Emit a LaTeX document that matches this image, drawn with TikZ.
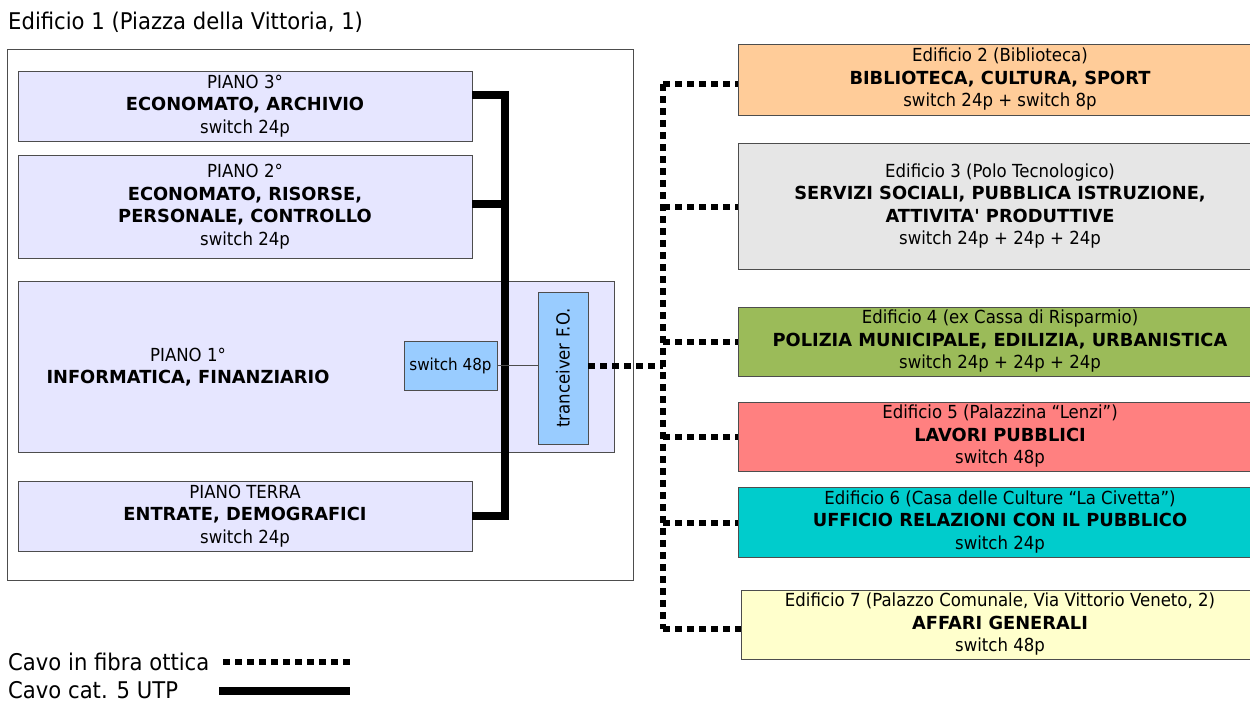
\documentclass[tikz,border=0pt]{standalone}
\usepackage{fontspec}
\setmainfont{DejaVu Sans}[FakeStretch=0.92, BoldFeatures={FakeStretch=0.99}]
\newcommand\fs{\fontsize{18}{22.5}\selectfont}
\newcommand\fssmall{\fontsize{16.5}{20}\selectfont}
\newcommand\fsbig{\fontsize{23}{27}\selectfont}
\newcommand\straightq{{\XeTeXglyph\XeTeXcharglyph"27\relax}}
\definecolor{lav}{HTML}{E6E6FF}
\definecolor{devblue}{HTML}{99CCFF}
\definecolor{edtwo}{HTML}{FFCC99}
\definecolor{edthree}{HTML}{E6E6E6}
\definecolor{edfour}{HTML}{9BBB59}
\definecolor{edfive}{HTML}{FF8080}
\definecolor{edsix}{HTML}{00CCCC}
\definecolor{edseven}{HTML}{FFFFCC}
\definecolor{edge}{HTML}{4D4D4D}
\begin{document}
\begin{tikzpicture}[x=1pt,y=-1pt,
  box/.style={draw=edge, line width=0.9pt, inner sep=0pt, align=center, font=\fs},
  floor/.style={box, fill=lav},
  dev/.style={box, fill=devblue, font=\fssmall},
  bld/.style={box, minimum width=524pt},
  utp/.style={line width=7.5pt, line join=miter},
  fiber/.style={line width=6.5pt, dash pattern=on 6.5pt off 5.5pt},
  lbl/.style={anchor=west, inner sep=0pt, font=\fsbig}]
\useasboundingbox (0,0) rectangle (1250,702);
\clip (0,0) rectangle (1250,702);
\fill[white] (0,0) rectangle (1250,702);

% title
\node[lbl] (title) at (8,22) {Edificio 1 (Piazza della Vittoria, 1)};

% building 1
\node[box, minimum width=626pt, minimum height=531pt] (outer) at (320,314.5) {};
\node[floor, minimum width=454pt, minimum height=70pt] (p3) at (245,106)
  {PIANO 3°\\\textbf{ECONOMATO, ARCHIVIO}\\switch 24p};
\node[floor, minimum width=454pt, minimum height=103pt] (p2) at (245,206.5)
  {PIANO 2°\\\textbf{ECONOMATO, RISORSE,}\\\textbf{PERSONALE, CONTROLLO}\\switch 24p};
\node[floor, minimum width=596pt, minimum height=171pt] (p1) at (316,366.5) {};
\node[align=center, inner sep=0pt, font=\fs] (p1t) at (188,367)
  {PIANO 1°\\\textbf{INFORMATICA, FINANZIARIO}};
\node[floor, minimum width=454pt, minimum height=70pt] (pt) at (245,516)
  {PIANO TERRA\\\textbf{ENTRATE, DEMOGRAFICI}\\switch 24p};

% UTP backbone
\coordinate (u3) at (505,95);
\coordinate (u2) at (505,204);
\coordinate (u0) at (505,516);
\draw[utp] (p3.east |- u3) -- (u3) -- (u0) -- (pt.east |- u0);
\draw[utp] (p2.east |- u2) -- (u2);

% devices
\node[dev, minimum width=93pt, minimum height=49pt] (sw) at (450.5,365.5) {switch 48p};
\node[dev, font=\fs, rotate=90, minimum width=152pt, minimum height=50pt] (tr) at (563,368) {tranceiver F.O.};
\draw[edge, line width=0.8pt] (sw.east) -- (sw.east -| tr.north);

% other buildings
\node[bld, fill=edtwo, minimum height=71pt] (e2) at (1000,79.5)
  {Edificio 2 (Biblioteca)\\\textbf{BIBLIOTECA, CULTURA, SPORT}\\switch 24p + switch 8p};
\node[bld, fill=edthree, minimum height=126pt] (e3) at (1000,206)
  {Edificio 3 (Polo Tecnologico)\\\textbf{SERVIZI SOCIALI, PUBBLICA ISTRUZIONE,}\\\textbf{ATTIVITA\straightq\ PRODUTTIVE}\\switch 24p + 24p + 24p};
\node[bld, fill=edfour, minimum height=69pt] (e4) at (1000,341.5)
  {Edificio 4 (ex Cassa di Risparmio)\\\textbf{POLIZIA MUNICIPALE, EDILIZIA, URBANISTICA}\\switch 24p + 24p + 24p};
\node[bld, fill=edfive, minimum height=69pt] (e5) at (1000,436.5)
  {Edificio 5 (Palazzina “Lenzi”)\\\textbf{LAVORI PUBBLICI}\\switch 48p};
\node[bld, fill=edsix, minimum height=70pt] (e6) at (1000,522)
  {Edificio 6 (Casa delle Culture “La Civetta”)\\\textbf{UFFICIO RELAZIONI CON IL PUBBLICO}\\switch 24p};
\node[bld, fill=edseven, minimum height=69pt, minimum width=518pt] (e7) at (1000,624.5)
  {Edificio 7 (Palazzo Comunale, Via Vittorio Veneto, 2)\\\textbf{AFFARI GENERALI}\\switch 48p};

% fibre network
\coordinate (f2) at (663,84);
\coordinate (f3) at (663,207);
\coordinate (f4) at (663,342);
\coordinate (fm) at (663,366);
\coordinate (f5) at (663,437);
\coordinate (f6) at (663,523);
\coordinate (f7) at (663,629);
\draw[fiber] (tr.south |- fm) -- (fm);
\draw[fiber] (f2) -- (f7);
\draw[fiber] (f2) -- (e2.west |- f2);
\draw[fiber] (f3) -- (e3.west |- f3);
\draw[fiber] (f4) -- (e4.west |- f4);
\draw[fiber] (f5) -- (e5.west |- f5);
\draw[fiber] (f6) -- (e6.west |- f6);
\draw[fiber] (f7) -- (e7.west |- f7);

% legend
\node[lbl] (lf) at (8,662) {Cavo in fibra ottica};
\node[lbl] (lu) at (8,690) {Cavo cat. 5 UTP};
\coordinate (lfa) at (223,662);
\coordinate (lfb) at (352,662);
\coordinate (lua) at (219,691);
\coordinate (lub) at (350,691);
\draw[fiber] (lfa) -- (lfb);
\draw[line width=8pt] (lua) -- (lub);
\end{tikzpicture}
\end{document}
